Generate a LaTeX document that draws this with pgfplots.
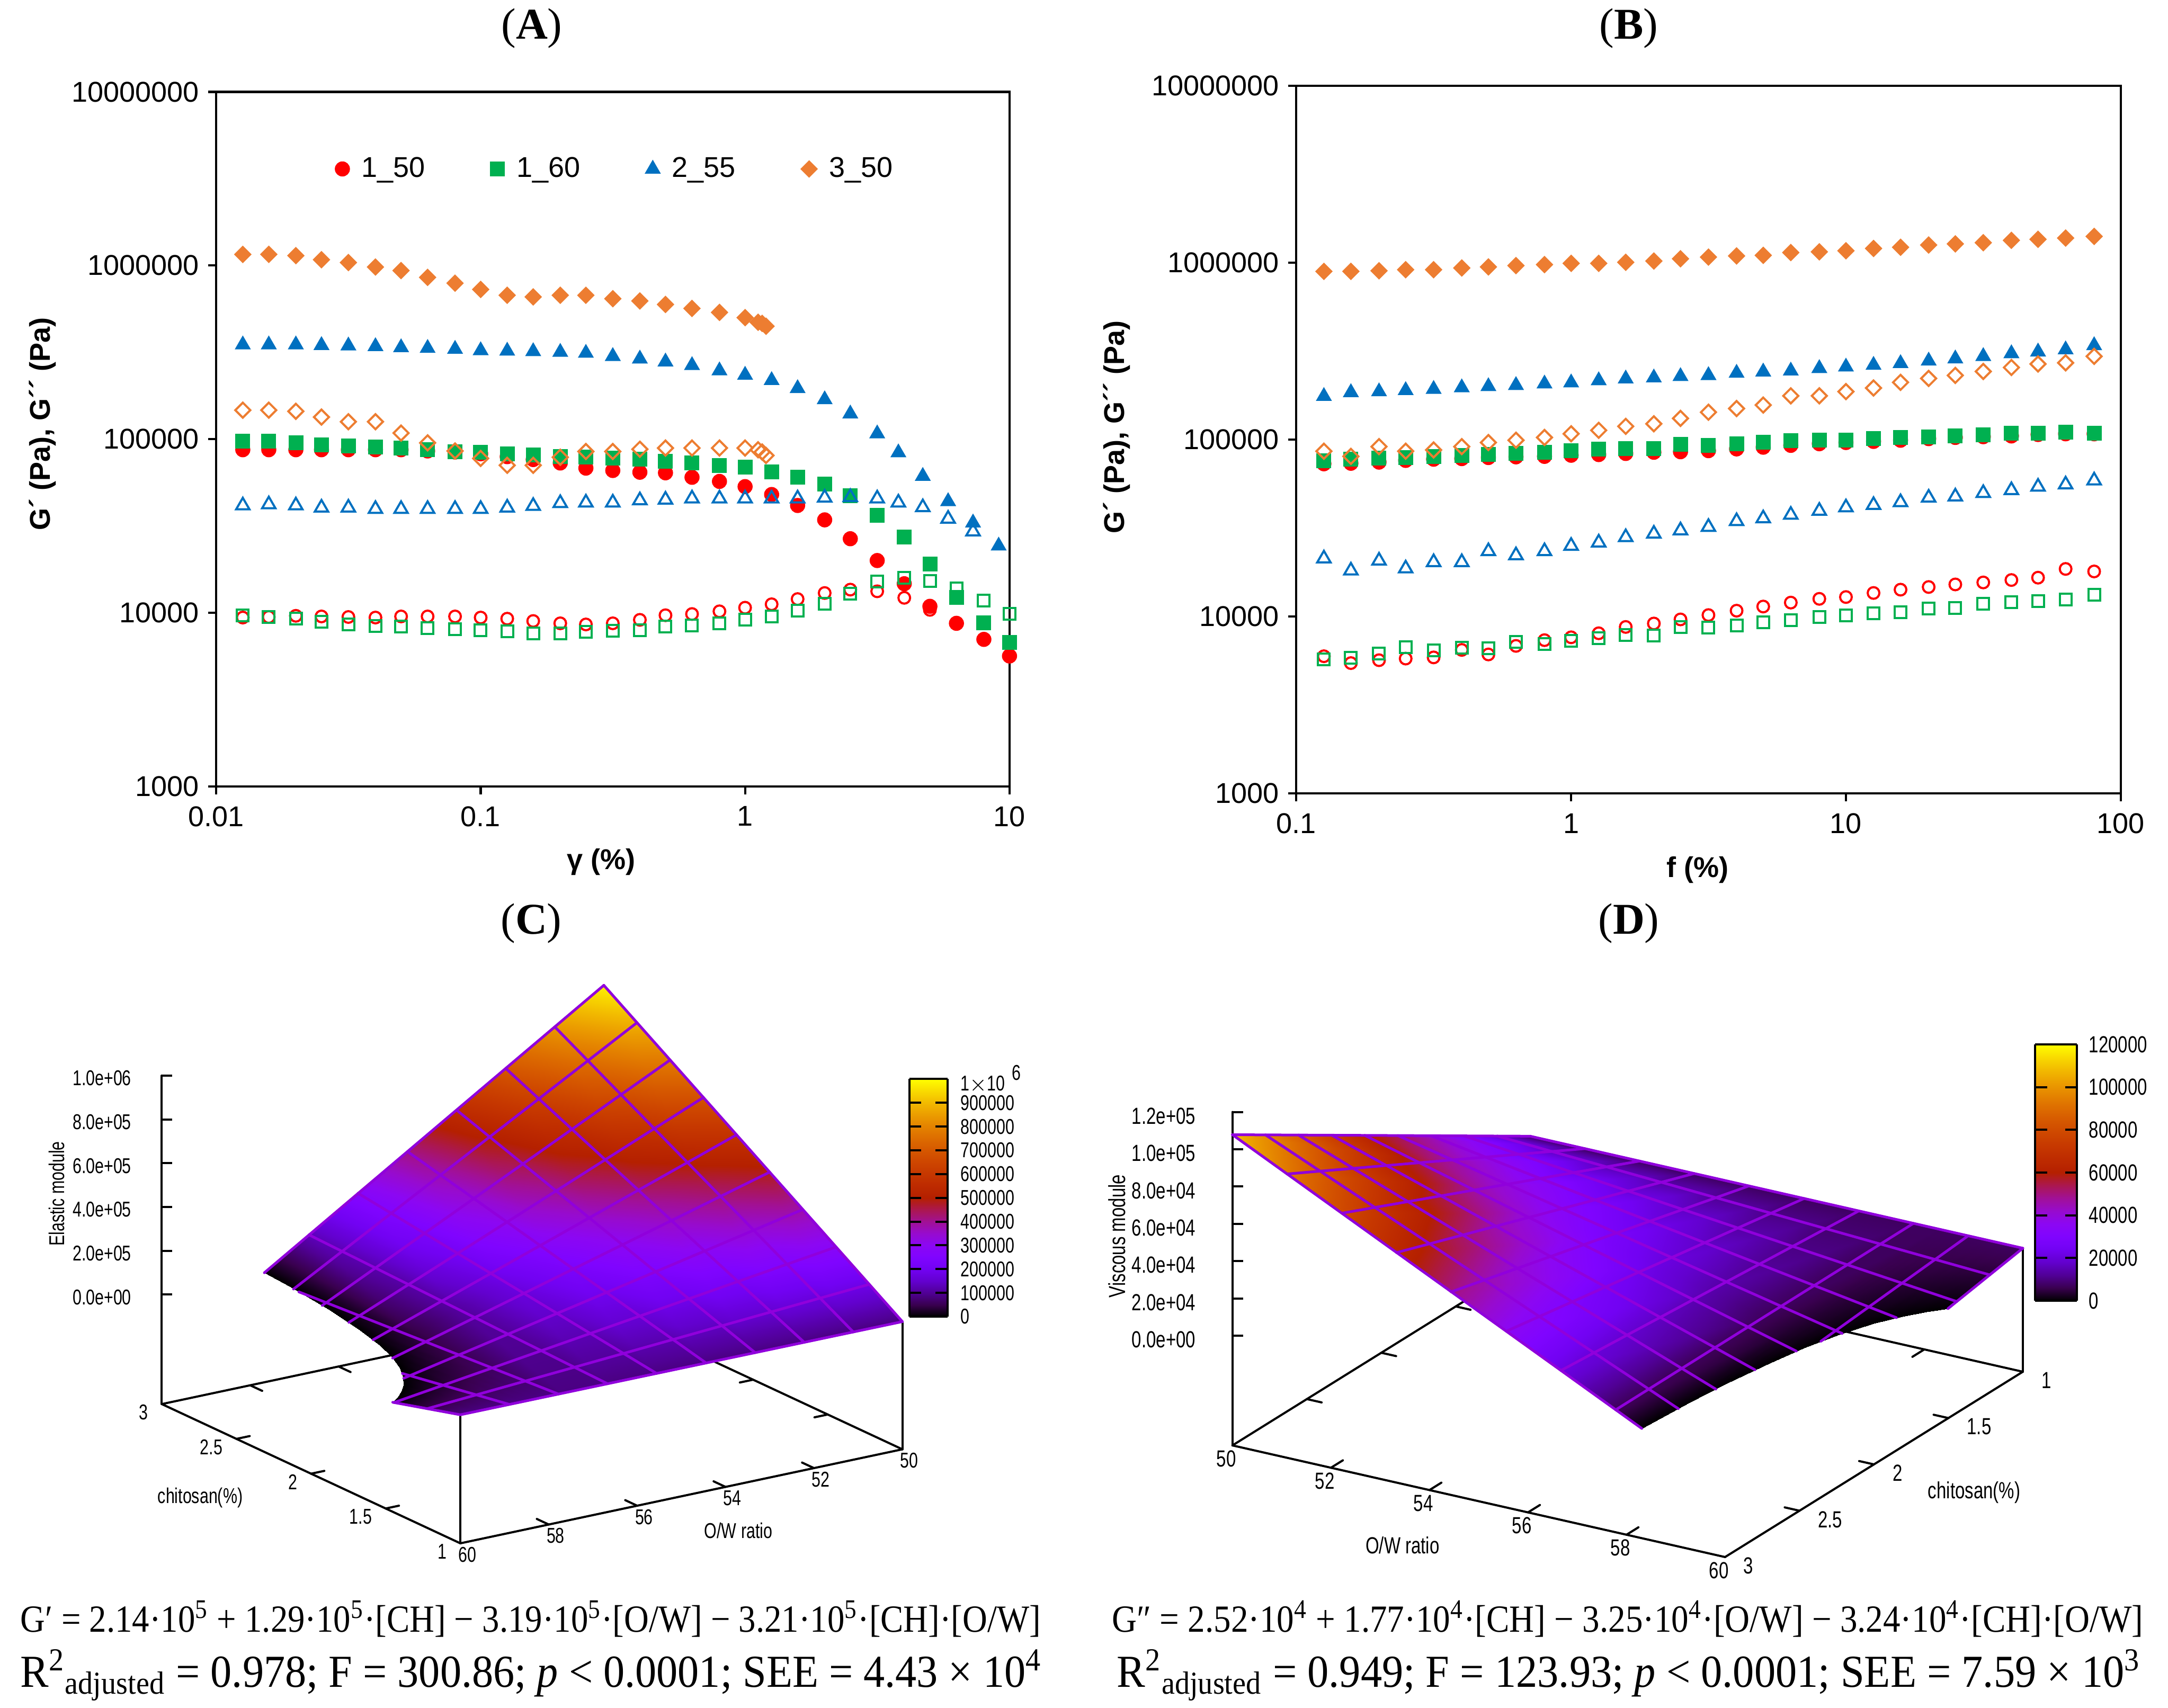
\documentclass[border=0pt]{standalone}
\usepackage{graphicx}
\usepackage{fontspec}
\setmainfont{Liberation Serif}
\newfontfamily\arialf{Liberation Sans}
\newfontfamily\gpf[FakeStretch=0.75]{Liberation Sans}
\usepackage{pgfplots}
\usepackage{pgfplotstable}
\pgfplotsset{compat=1.18}
\definecolor{cr}{HTML}{FF0000}
\definecolor{cg}{HTML}{00B050}
\definecolor{cb}{HTML}{0070C0}
\definecolor{co}{HTML}{ED7D31}
\definecolor{meshc}{HTML}{9000DC}

% gnuplot's default pm3d palette
\pgfplotsset{colormap={gp}{
rgb=(0,0,0) rgb=(.224,0,.309) rgb=(.316,.001,.588) rgb=(.387,.003,.809)
rgb=(.447,.008,.951) rgb=(.5,.016,1) rgb=(.548,.027,.951) rgb=(.592,.043,.809)
rgb=(.632,.064,.588) rgb=(.671,.091,.309) rgb=(.707,.125,0) rgb=(.742,.166,0)
rgb=(.775,.216,0) rgb=(.806,.275,0) rgb=(.837,.343,0) rgb=(.866,.422,0)
rgb=(.894,.512,0) rgb=(.922,.614,0) rgb=(.949,.729,0) rgb=(.975,.857,0) rgb=(1,1,0)}}

\tikzset{
  sr1/.style={only marks,mark=*,color=cr,mark size=2.65pt},
  sr2/.style={only marks,mark=o,color=cr,mark size=2.2pt,line width=.8pt},
  sg1/.style={only marks,mark=square*,color=cg,mark size=2.6pt},
  sg2/.style={only marks,mark=square,color=cg,mark size=2.2pt,line width=.8pt},
  sb1/.style={only marks,mark=triangle*,color=cb,mark size=3.1pt},
  sb2/.style={only marks,mark=triangle,color=cb,mark size=2.9pt,line width=.8pt},
  so1/.style={only marks,mark=square*,mark options={rotate=45},color=co,mark size=2.15pt},
  so2/.style={only marks,mark=square,mark options={rotate=45,solid},color=co,mark size=2pt,line width=.8pt},
  gpax/.style={black,line width=.8pt,line cap=round},
  gpm/.style={meshc,line width=1pt,line cap=round},
}
\newcommand{\seg}[7][gpax]{\addplot3[#1,forget plot] coordinates {(#2,#3,#4) (#5,#6,#7)};}

\pgfplotstableread{
x r1 r2 g1 g2
.0126 86900 9390 97300 9680
.0158 86900 9460 97300 9460
.02 86900 9610 95200 9250
.025 86900 9530 93000 8910
.0316 86900 9460 91600 8570
.04 86900 9390 90200 8380
.05 86900 9530 88900 8310
.063 85500 9530 86900 8190
.08 84300 9530 84900 8070
.1 82400 9390 84300 7940
.126 79300 9250 82400 7820
.158 76300 8970 81100 7590
.2 72900 8700 79300 7590
.25 68100 8570 78700 7760
.316 66000 8700 78000 7880
.4 64500 9110 76900 7940
.5 64000 9680 74600 8310
.63 60300 9840 72900 8440
.8 57100 10200 70700 8700
1 53300 10700 69100 9110
1.26 48000 11200 65000 9530
1.58 41500 12000 60300 10300
2 34300 13000 55000 11300
2.5 26700 13600 47200 12900
3.16 20000 13300 36500 15100
4 14700 12200 27300 15900
5 10900 10400 19100 15300
6.3 8700 8700 12300 13800
8 7030 7030 8770 11800
10 5640 5640 6770 9840
}\tableA

\pgfplotstableread{
x b1 b2
.0126 350000 41500
.0158 350000 42100
.02 350000 41500
.025 347000 40300
.0316 345000 40300
.04 342000 39600
.05 337000 39600
.063 334000 39600
.08 330000 39600
.1 324000 39600
.126 322000 40300
.158 320000 41200
.2 317000 42800
.25 313000 43100
.316 300000 43100
.4 290000 44400
.5 279000 44800
.63 266000 45500
.8 248000 45500
1 234000 45500
1.26 218000 45500
1.58 196000 45500
2 169000 46000
2.5 140000 46300
3.16 107500 45500
3.8 83600 43100
4.7 61200 40500
5.86 43800 34800
7.28 33000 29400
9.1 24300 nan
}\tableAb

\pgfplotstableread{
x o1 o2
.0126 1158000 146900
.0158 1160000 146900
.02 1140000 144700
.025 1080000 134000
.0316 1040000 126000
.04 980000 126000
.05 935000 108400
.063 854000 95200
.08 791000 85500
.1 728000 77500
.126 674000 70700
.158 659000 70700
.2 674000 78700
.25 674000 84900
.316 644000 84900
.4 625000 87500
.5 597000 88900
.63 566000 88900
.8 537000 88900
1 501000 88900
1.12 471000 86900
1.16 464000 84300
1.2 447000 80500
}\tableAo

\pgfplotstableread{
x o1 o2 b1 b2 g1 g2 r1 r2
.126 894000 86100 176000 21300 75900 5750 73100 5970
.158 894000 80500 185000 18200 77600 5840 73600 5460
.2 901000 91400 187000 20700 78700 6200 74700 5670
.25 914000 86100 190000 18700 79300 6730 76400 5790
.316 914000 87500 193000 20300 80500 6430 77600 5880
.4 935000 91400 197000 20300 81700 6680 78200 6480
.5 948000 96400 200000 23400 82400 6630 79300 6110
.63 964000 99300 203000 22200 83600 7200 80000 6830
.8 977000 103000 207000 23400 84900 6980 80500 7360
1 993000 108000 210000 25100 86700 7310 81700 7640
1.26 993000 113000 216000 26200 88700 7530 82400 8050
1.58 1007000 119000 221000 28100 89300 7870 83600 8740
2 1023000 123000 224000 29400 89300 7810 84900 9140
2.5 1054000 132000 228000 30700 94200 8740 85500 9640
3.16 1077000 143000 231000 32100 92900 8670 86700 10200
4 1094000 150000 238000 34600 94900 8940 88700 10800
5 1102000 157000 242000 35900 97000 9280 90700 11400
6.3 1143000 177000 245000 37600 98600 9570 92900 12000
8 1153000 177000 253000 39600 99300 9930 94900 12600
10 1169000 187000 258000 41400 99300 10140 96400 12900
12.6 1205000 196000 264000 42700 101400 10450 97800 13600
15.8 1224000 211000 270000 44300 103000 10600 99300 14200
20 1261000 222000 279000 47000 103800 11100 101400 14700
25 1279000 231000 287000 47700 105400 11200 103000 15200
31.6 1300000 243000 296000 49900 106900 11800 104000 15600
40 1340000 256000 307000 51800 108600 12100 105000 16100
50 1358000 268000 314000 54200 108600 12200 107000 16600
63 1380000 272000 323000 55800 110000 12500 108000 18600
80 1410000 296000 341000 58800 108600 13300 108000 18000
}\tableB

\pgfplotstableread{
x t z
0 0 0
1 0 0
0 .05 0
1 .05 0
0 .1 0
1 .1 0
0 .15 0
1 .15 0
0 .2 0
1 .2 0
0 .25 0
1 .25 0
0 .3 0
1 .3 0
0 .35 0
1 .35 0
0 .4 0
1 .4 0
0 .45 0
1 .45 0
0 .5 0
1 .5 0
0 .55 0
1 .55 0
0 .6 0
1 .6 0
0 .65 0
1 .65 0
0 .7 0
1 .7 0
0 .75 0
1 .75 0
0 .8 0
1 .8 0
0 .85 0
1 .85 0
0 .9 0
1 .9 0
0 .95 0
1 .95 0
0 1 0
1 1 0
}\tableCB

\begin{document}
\begin{tikzpicture}
\path[use as bounding box] (0pt,0pt) rectangle (818.6pt,644.8pt);

% panel A
\begin{axis}[scale only axis,xmode=log,ymode=log,clip=false,
  xminorticks=false,yminorticks=false,
  tick align=outside,xtick pos=bottom,ytick pos=left,tickwidth=3pt,
  axis line style={line width=.85pt},tick style={line width=.85pt,black},
  ymin=1000,ymax=10000000,
  ytick={1000,10000,100000,1000000,10000000},
  yticklabels={1000,10000,100000,1000000,10000000},
  tick label style={font=\arialf\fontsize{10.8}{12}\selectfont},
  label style={font=\arialf\bfseries\fontsize{10.8}{12}\selectfont},
  xticklabel style={yshift=-1pt},
  at={(81.66pt,347.8pt)},anchor=south west,width=299.5pt,height=262.3pt,
  xmin=.01,xmax=10,xtick={.01,.1,1,10},xticklabels={0.01,0.1,1,10},
  xlabel={γ (\%)},ylabel={G´ (Pa), G´´ (Pa)},
  x label style={at={(axis description cs:.485,-.1084)},anchor=center},
  y label style={at={(axis description cs:-.219,.522)},anchor=center},
  legend columns=4,
  legend style={at={(axis description cs:.505,.889)},anchor=center,draw=none,fill=none,
    font=\arialf\fontsize{10.8}{12}\selectfont,
    /tikz/every odd column/.append style={column sep=2.6pt},
    /tikz/every even column/.append style={column sep=22.7pt}},
]
\addplot[sr1] table[x=x,y=r1] {\tableA};
\addlegendentry{1\_50}
\addplot[sr2,forget plot] table[x=x,y=r2] {\tableA};
\addplot[sg1] table[x=x,y=g1] {\tableA};
\addlegendentry{1\_60}
\addplot[sg2,forget plot] table[x=x,y=g2] {\tableA};
\addplot[sb1] table[x=x,y=b1] {\tableAb};
\addlegendentry{2\_55}
\addplot[sb2,forget plot] table[x=x,y=b2] {\tableAb};
\addplot[so1] table[x=x,y=o1] {\tableAo};
\addlegendentry{3\_50}
\addplot[so2,forget plot] table[x=x,y=o2] {\tableAo};
\end{axis}

% panel B
\begin{axis}[scale only axis,xmode=log,ymode=log,clip=false,
  xminorticks=false,yminorticks=false,
  tick align=outside,xtick pos=bottom,ytick pos=left,tickwidth=3pt,
  axis line style={line width=.85pt},tick style={line width=.85pt,black},
  ymin=1000,ymax=10000000,
  ytick={1000,10000,100000,1000000,10000000},
  yticklabels={1000,10000,100000,1000000,10000000},
  tick label style={font=\arialf\fontsize{10.8}{12}\selectfont},
  label style={font=\arialf\bfseries\fontsize{10.8}{12}\selectfont},
  xticklabel style={yshift=-1pt},
  at={(489.46pt,345.14pt)},anchor=south west,width=311.3pt,height=267.2pt,
  xmin=.1,xmax=100,xtick={.1,1,10,100},xticklabels={0.1,1,10,100},
  xlabel={f (\%)},ylabel={G´ (Pa), G´´ (Pa)},
  x label style={at={(axis description cs:.4865,-.108)},anchor=center},
  y label style={at={(axis description cs:-.2176,.5176)},anchor=center},
]
\addplot[sr1] table[x=x,y=r1] {\tableB};
\addplot[sr2] table[x=x,y=r2] {\tableB};
\addplot[sg1] table[x=x,y=g1] {\tableB};
\addplot[sg2] table[x=x,y=g2] {\tableB};
\addplot[sb1] table[x=x,y=b1] {\tableB};
\addplot[sb2] table[x=x,y=b2] {\tableB};
\addplot[so1] table[x=x,y=o1] {\tableB};
\addplot[so2] table[x=x,y=o2] {\tableB};
\end{axis}

% panel C
\begin{axis}[hide axis,clip=false,anchor=origin,colormap name=gp,z buffer=none,
  xmin=50,xmax=60,ymin=1,ymax=3,
  at={(340.72pt,138.84pt)},
  x={(-16.69pt,-3.55pt)},y={(-56.36pt,26.29pt)},z={(0pt,8.27pt)},
  zmin=-5,zmax=10,point meta min=0,point meta max=10]
\seg{60}{3}{-5}{50}{3}{-5}
\seg{50}{1}{-5}{50}{3}{-5}
\pgfplotsinvokeforeach{52,54,56,58}{
  \seg{#1}{3}{-5}{#1}{2.92}{-5}
  \seg{#1}{1}{-5}{#1}{1.08}{-5}
}
\pgfplotsinvokeforeach{1.5,2,2.5}{
  \seg{50}{#1}{-5}{50.3}{#1}{-5}
  \seg{60}{#1}{-5}{59.7}{#1}{-5}
}
\seg{60}{1}{-5}{60}{3}{-5}
\seg{60}{1}{-5}{50}{1}{-5}
\seg{60}{3}{-5}{60}{3}{10}
\seg{60}{1}{-5}{60}{1}{.87}
\seg{50}{1}{-5}{50}{1}{.83}
\pgfplotsinvokeforeach{0,2,4,6,8,10}{
  \draw[black,line width=.8pt] (axis cs:60,3,#1) -- ++(4pt,0pt);
}
\addplot3[surf,shader=interp,mesh/ordering=y varies,forget plot] table {
50 1 .83
50 2 5.33
50 3 9.83

51.11 1 .834
51.11 2 4.622
51.11 3 8.409

52.22 1 .839
52.22 2 3.914
52.22 3 6.988

53.33 1 .843
53.33 2 3.202
53.33 3 5.561

54.44 1 .848
54.44 2 2.494
54.44 3 4.14

55.56 1 .852
55.56 2 1.786
55.56 3 2.72

56.67 1 .857
56.67 2 1.078
56.67 3 1.299

57.68 1 .861
57.68 2 .43
57.68 3 0

57.75 1 .861
57.75 1.906 .431
57.75 2.811 0

57.9 1 .862
57.9 1.754 .431
57.9 2.507 0

58.1 1 .862
58.1 1.616 .431
58.1 2.232 0

58.3 1 .863
58.3 1.521 .432
58.3 2.042 0

58.5 1 .864
58.5 1.452 .432
58.5 1.903 0

58.75 1 .865
58.75 1.387 .432
58.75 1.774 0

59 1 .866
59 1.339 .433
59 1.678 0

59.25 1 .867
59.25 1.302 .434
59.25 1.603 0

59.5 1 .868
59.5 1.272 .434
59.5 1.543 0

59.75 1 .869
59.75 1.247 .435
59.75 1.494 0

60 1 .87
60 1.227 .435
60 1.453 0
};
\seg[gpm]{50}{1}{.83}{50}{3}{9.83}
\seg[gpm]{51.11}{1}{.834}{51.11}{3}{8.409}
\seg[gpm]{52.22}{1}{.839}{52.22}{3}{6.988}
\seg[gpm]{53.33}{1}{.843}{53.33}{3}{5.561}
\seg[gpm]{54.44}{1}{.848}{54.44}{3}{4.14}
\seg[gpm]{55.56}{1}{.852}{55.56}{3}{2.72}
\seg[gpm]{56.67}{1}{.857}{56.67}{3}{1.299}
\seg[gpm]{57.78}{1}{.861}{57.78}{2.739}{0}
\seg[gpm]{58.89}{1}{.866}{58.89}{1.717}{0}
\seg[gpm]{60}{1}{.87}{60}{1.453}{0}
\seg[gpm]{50}{1}{.83}{60}{1}{.87}
\seg[gpm]{50}{1.222}{1.829}{60}{1.222}{.443}
\seg[gpm]{50}{1.444}{2.828}{60}{1.444}{.018}
\seg[gpm]{50}{1.667}{3.83}{59.03}{1.667}{0}
\seg[gpm]{50}{1.889}{4.83}{58.53}{1.889}{0}
\seg[gpm]{50}{2.111}{5.83}{58.22}{2.111}{0}
\seg[gpm]{50}{2.333}{6.83}{58.02}{2.333}{0}
\seg[gpm]{50}{2.556}{7.83}{57.87}{2.556}{0}
\seg[gpm]{50}{2.778}{8.83}{57.77}{2.778}{0}
\seg[gpm]{50}{3}{9.83}{57.68}{3}{0}
\tikzset{every node/.append style={font=\gpf\fontsize{8.1}{9}\selectfont}}
\node[anchor=east,xshift=-8pt,yshift=-1pt] at (axis cs:60,3,0) {0.0e+00};
\node[anchor=east,xshift=-8pt,yshift=-1pt] at (axis cs:60,3,2) {2.0e+05};
\node[anchor=east,xshift=-8pt,yshift=-1pt] at (axis cs:60,3,4) {4.0e+05};
\node[anchor=east,xshift=-8pt,yshift=-1pt] at (axis cs:60,3,6) {6.0e+05};
\node[anchor=east,xshift=-8pt,yshift=-1pt] at (axis cs:60,3,8) {8.0e+05};
\node[anchor=east,xshift=-8pt,yshift=-1pt] at (axis cs:60,3,10) {1.0e+06};
\node[xshift=2.6pt,yshift=-4.3pt] at (axis cs:50,1,-5) {50};
\node[xshift=2.6pt,yshift=-4.3pt] at (axis cs:52,1,-5) {52};
\node[xshift=2.6pt,yshift=-4.3pt] at (axis cs:54,1,-5) {54};
\node[xshift=2.6pt,yshift=-4.3pt] at (axis cs:56,1,-5) {56};
\node[xshift=2.6pt,yshift=-4.3pt] at (axis cs:58,1,-5) {58};
\node[xshift=2.6pt,yshift=-4.3pt] at (axis cs:60,1,-5) {60};
\node[anchor=east,xshift=-1.7pt,yshift=-3.1pt] at (axis cs:60,1,-5) {1};
\node[anchor=east,xshift=-1.7pt,yshift=-3.1pt] at (axis cs:60,1.5,-5) {1.5};
\node[anchor=east,xshift=-1.7pt,yshift=-3.1pt] at (axis cs:60,2,-5) {2};
\node[anchor=east,xshift=-1.7pt,yshift=-3.1pt] at (axis cs:60,2.5,-5) {2.5};
\node[anchor=east,xshift=-1.7pt,yshift=-3.1pt] at (axis cs:60,3,-5) {3};
\end{axis}

\begin{axis}[scale only axis,view={0}{90},xmin=0,xmax=1,ymin=0,ymax=1,colormap name=gp,
  point meta min=0,point meta max=1,xtick=\empty,
  ytick pos=both,yticklabel pos=right,tick align=inside,tickwidth=4.5pt,
  axis line style={line width=.8pt},tick style={line width=.8pt,black},
  tick label style={font=\gpf\fontsize{8.1}{9}\selectfont},
  yticklabel style={xshift=1.5pt},axis on top,
  at={(343.34pt,147.6pt)},anchor=south west,width=14.36pt,height=89.7pt,
  ytick={0,.1,.2,.3,.4,.5,.6,.7,.8,.9,1},
  yticklabels={0,100000,200000,300000,400000,500000,600000,700000,800000,900000,{1$\times$10\raisebox{4pt}{\,\,6}}}]
\addplot3[surf,shader=interp,point meta=y,mesh/rows=21,mesh/cols=2] table[x=x,y=t,z=z] {\tableCB};
\end{axis}

% panel D
\begin{axis}[hide axis,clip=false,anchor=origin,colormap name=gp,z buffer=none,
  xmin=50,xmax=60,ymin=1,ymax=3,
  at={(577.78pt,210.38pt)},
  x={(18.6pt,-4.216pt)},y={(-56.22pt,-34.99pt)},z={(0pt,7.04pt)},
  zmin=-5.886,zmax=12,point meta min=0,point meta max=12]
\seg{50}{3}{-5.886}{50}{1}{-5.886}
\seg{50}{1}{-5.886}{60}{1}{-5.886}
\pgfplotsinvokeforeach{52,54,56,58}{
  \seg{#1}{1}{-5.886}{#1}{1.08}{-5.886}
  \seg{#1}{3}{-5.886}{#1}{2.92}{-5.886}
}
\pgfplotsinvokeforeach{1.5,2,2.5}{
  \seg{50}{#1}{-5.886}{50.3}{#1}{-5.886}
  \seg{60}{#1}{-5.886}{59.7}{#1}{-5.886}
}
\seg{50}{3}{-5.886}{60}{3}{-5.886}
\seg{60}{3}{-5.886}{60}{1}{-5.886}
\seg{50}{3}{-5.886}{50}{3}{12}
\seg{60}{1}{-5.886}{60}{1}{.74}
\pgfplotsinvokeforeach{0,2,4,6,8,10,12}{
  \draw[black,line width=.8pt] (axis cs:50,3,#1) -- ++(4pt,0pt);
}
\addplot3[surf,shader=interp,mesh/ordering=y varies,forget plot] table {
50 1 .76
50 2 5.77
50 3 10.78

51.11 1 .758
51.11 2 5.049
51.11 3 9.339

52.22 1 .756
52.22 2 4.327
52.22 3 7.898

53.33 1 .753
53.33 2 3.602
53.33 3 6.451

54.44 1 .751
54.44 2 2.881
54.44 3 5.01

55.56 1 .749
55.56 2 2.16
55.56 3 3.57

56.67 1 .747
56.67 2 1.438
56.67 3 2.129

57.78 1 .744
57.78 2 .713
57.78 3 .682

58.31 1 .743
58.31 2 .372
58.31 3 0

58.4 1 .743
58.4 1.858 .371
58.4 2.716 0

58.5 1 .743
58.5 1.746 .371
58.5 2.492 0

58.65 1 .743
58.65 1.624 .371
58.65 2.248 0

58.8 1 .742
58.8 1.536 .371
58.8 2.072 0

59 1 .742
59 1.452 .371
59 1.903 0

59.25 1 .742
59.25 1.377 .371
59.25 1.754 0

59.5 1 .741
59.5 1.324 .37
59.5 1.647 0

59.75 1 .741
59.75 1.283 .37
59.75 1.566 0

60 1 .74
60 1.252 .37
60 1.503 0
};
\seg[gpm]{50}{1}{.76}{50}{3}{10.78}
\seg[gpm]{51.11}{1}{.758}{51.11}{3}{9.339}
\seg[gpm]{52.22}{1}{.756}{52.22}{3}{7.898}
\seg[gpm]{53.33}{1}{.753}{53.33}{3}{6.451}
\seg[gpm]{54.44}{1}{.751}{54.44}{3}{5.01}
\seg[gpm]{55.56}{1}{.749}{55.56}{3}{3.57}
\seg[gpm]{56.67}{1}{.747}{56.67}{3}{2.129}
\seg[gpm]{57.78}{1}{.744}{57.78}{3}{.682}
\seg[gpm]{58.89}{1}{.742}{58.89}{1.989}{0}
\seg[gpm]{60}{1}{.74}{60}{1.503}{0}
\seg[gpm]{50}{1}{.76}{60}{1}{.74}
\seg[gpm]{50}{1.222}{1.872}{60}{1.222}{.414}
\seg[gpm]{50}{1.444}{2.984}{60}{1.444}{.087}
\seg[gpm]{50}{1.667}{4.102}{59.45}{1.667}{0}
\seg[gpm]{50}{1.889}{5.214}{59.02}{1.889}{0}
\seg[gpm]{50}{2.111}{6.326}{58.76}{2.111}{0}
\seg[gpm]{50}{2.333}{7.438}{58.59}{2.333}{0}
\seg[gpm]{50}{2.556}{8.556}{58.47}{2.556}{0}
\seg[gpm]{50}{2.778}{9.668}{58.38}{2.778}{0}
\seg[gpm]{50}{3}{10.78}{58.31}{3}{0}
\tikzset{every node/.append style={font=\gpf\fontsize{8.8}{10}\selectfont}}
\node[anchor=east,xshift=-10.4pt,yshift=-1.5pt] at (axis cs:50,3,0) {0.0e+00};
\node[anchor=east,xshift=-10.4pt,yshift=-1.5pt] at (axis cs:50,3,2) {2.0e+04};
\node[anchor=east,xshift=-10.4pt,yshift=-1.5pt] at (axis cs:50,3,4) {4.0e+04};
\node[anchor=east,xshift=-10.4pt,yshift=-1.5pt] at (axis cs:50,3,6) {6.0e+04};
\node[anchor=east,xshift=-10.4pt,yshift=-1.5pt] at (axis cs:50,3,8) {8.0e+04};
\node[anchor=east,xshift=-10.4pt,yshift=-1.5pt] at (axis cs:50,3,10) {1.0e+05};
\node[anchor=east,xshift=-10.4pt,yshift=-1.5pt] at (axis cs:50,3,12) {1.2e+05};
\node[xshift=-2.3pt,yshift=-5pt] at (axis cs:50,3,-5.886) {50};
\node[xshift=-2.3pt,yshift=-5pt] at (axis cs:52,3,-5.886) {52};
\node[xshift=-2.3pt,yshift=-5pt] at (axis cs:54,3,-5.886) {54};
\node[xshift=-2.3pt,yshift=-5pt] at (axis cs:56,3,-5.886) {56};
\node[xshift=-2.3pt,yshift=-5pt] at (axis cs:58,3,-5.886) {58};
\node[xshift=-2.3pt,yshift=-5pt] at (axis cs:60,3,-5.886) {60};
\node[anchor=west,xshift=3.5pt,yshift=-3.3pt] at (axis cs:60,1,-5.886) {1};
\node[anchor=west,xshift=3.5pt,yshift=-3.3pt] at (axis cs:60,1.5,-5.886) {1.5};
\node[anchor=west,xshift=3.5pt,yshift=-3.3pt] at (axis cs:60,2,-5.886) {2};
\node[anchor=west,xshift=3.5pt,yshift=-3.3pt] at (axis cs:60,2.5,-5.886) {2.5};
\node[anchor=west,xshift=3.5pt,yshift=-3.3pt] at (axis cs:60,3,-5.886) {3};
\end{axis}

\begin{axis}[scale only axis,view={0}{90},xmin=0,xmax=1,ymin=0,ymax=1,colormap name=gp,
  point meta min=0,point meta max=1,xtick=\empty,
  ytick pos=both,yticklabel pos=right,tick align=inside,tickwidth=4.5pt,
  axis line style={line width=.8pt},tick style={line width=.8pt,black},
  tick label style={font=\gpf\fontsize{8.8}{10}\selectfont},
  yticklabel style={xshift=1pt},axis on top,
  at={(768.4pt,153.6pt)},anchor=south west,width=15.8pt,height=96.8pt,
  ytick={0,.16667,.33333,.5,.66667,.83333,1},
  yticklabels={0,20000,40000,60000,80000,100000,120000}]
\addplot3[surf,shader=interp,point meta=y,mesh/rows=21,mesh/cols=2] table[x=x,y=t,z=z] {\tableCB};
\end{axis}

% text in reference pixels
\begin{scope}[x=.2pt,y=-.2pt,yshift=644.8pt]
\tikzset{ttl/.style={font=\fontsize{16.6}{18}\selectfont,inner sep=0pt}}
\node[ttl] at (1004,54) {(\textbf{A})};
\node[ttl] at (3075,54) {(\textbf{B})};
\node[ttl] at (1003,1744) {(\textbf{C})};
\node[ttl] at (3075,1744) {(\textbf{D})};
\tikzset{gl/.style={font=\gpf\fontsize{8.1}{9}\selectfont,inner sep=0pt},
         gd/.style={font=\gpf\fontsize{8.8}{10}\selectfont,inner sep=0pt}}
\node[gl] at (378,2828) {chitosan(\%)};
\node[gl] at (1394,2890) {O/W ratio};
\node[gl,rotate=90] at (107,2254) {Elastic module};
\node[gd] at (3727,2818) {chitosan(\%)};
\node[gd] at (2648,2918) {O/W ratio};
\node[gd,rotate=90] at (2109,2334) {Viscous module};
\tikzset{e1/.style={font=\fontsize{14.5}{16}\selectfont,inner sep=0pt},
         e2/.style={font=\fontsize{17.3}{19}\selectfont,inner sep=0pt}}
\node[e1] at (1002,3057) {\resizebox{385.2pt}{\height}{G′ = 2.14·10\textsuperscript{5} + 1.29·10\textsuperscript{5}·[CH] − 3.19·10\textsuperscript{5}·[O/W] − 3.21·10\textsuperscript{5}·[CH]·[O/W]}};
\node[e2] at (1003,3163) {\resizebox{385.6pt}{\height}{R\textsuperscript{2}\textsubscript{adjusted} = 0.978; F = 300.86; \textit{p} < 0.0001; SEE = 4.43 × 10\textsuperscript{4}}};
\node[e1] at (3073,3057) {\resizebox{389.4pt}{\height}{G″ = 2.52·10\textsuperscript{4} + 1.77·10\textsuperscript{4}·[CH] − 3.25·10\textsuperscript{4}·[O/W] − 3.24·10\textsuperscript{4}·[CH]·[O/W]}};
\node[e2] at (3075,3163) {\resizebox{386.4pt}{\height}{R\textsuperscript{2}\textsubscript{adjusted} = 0.949; F = 123.93; \textit{p} < 0.0001; SEE = 7.59 × 10\textsuperscript{3}}};
\end{scope}
\end{tikzpicture}
\end{document}
